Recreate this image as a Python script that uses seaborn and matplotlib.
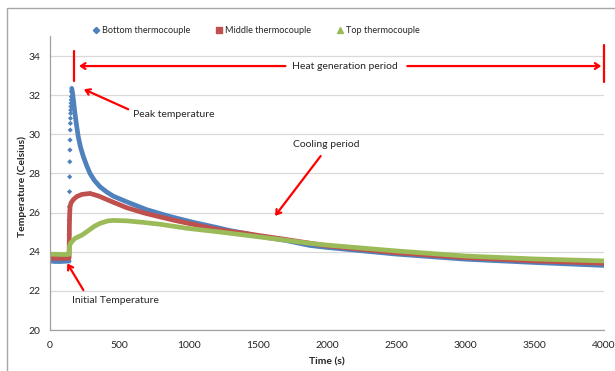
import pandas as pd
import seaborn as sns
import matplotlib.pyplot as plt
from matplotlib.lines import Line2D
from matplotlib.patches import Rectangle

# ---- data ----
# before heating starts (bottom thermocouple)
time_pre = [0, 40, 80, 120, 138]
bottom_pre = [23.52, 23.50, 23.50, 23.52, 23.52]

# bottom thermocouple: fast rise, individual samples
time_bottom_rise = [138, 139, 140, 141, 142, 143, 144, 145, 146, 147, 148, 149, 150, 151, 152, 153, 154, 155]
bottom_rise = [24.9, 25.62, 26.3, 27.07, 27.83, 28.6, 29.2, 29.71, 30.22, 30.56, 30.82, 31.07, 31.24,
               31.42, 31.59, 31.76, 31.93, 32.18]

# bottom thermocouple: decay after the peak
time_bottom = [157, 163, 170, 180, 192, 204, 220, 241, 265, 289, 320, 361, 410, 457, 554, 698, 866,
               1035, 1203, 1300, 1400, 1500, 1700, 1877, 2000, 2500, 3000, 3500, 4000]
bottom = [32.35, 32.1, 31.7, 31.07, 30.45, 29.88, 29.35, 28.86, 28.4, 28.0, 27.65, 27.32, 27.05, 26.84,
          26.55, 26.15, 25.8, 25.5, 25.24, 25.08, 24.95, 24.8, 24.58, 24.32, 24.22, 23.88, 23.62,
          23.45, 23.3]

time_middle = [0, 40, 80, 120, 138, 140, 142, 145, 152, 168, 193, 230, 289, 350, 450, 554, 680, 794,
               900, 1000, 1100, 1200, 1300, 1400, 1500, 1700, 2000, 2500, 3000, 3500, 4000]
middle = [23.68, 23.67, 23.66, 23.66, 23.68, 25.3, 25.95, 26.3, 26.5, 26.66, 26.82, 26.93, 26.98,
          26.85, 26.55, 26.25, 25.98, 25.78, 25.6, 25.45, 25.3, 25.15, 25.04, 24.95, 24.84, 24.63,
          24.3, 23.95, 23.7, 23.53, 23.41]

time_top = [0, 40, 80, 120, 138, 141, 150, 180, 230, 265, 320, 361, 420, 457, 550, 674, 800, 987,
            1200, 1408, 1600, 1877, 2000, 2500, 3000, 3500, 4000]
top = [23.88, 23.87, 23.86, 23.86, 23.87, 24.3, 24.45, 24.68, 24.85, 25.02, 25.3, 25.45, 25.58, 25.6,
       25.58, 25.5, 25.4, 25.2, 25.03, 24.85, 24.68, 24.43, 24.34, 24.04, 23.78, 23.63, 23.53]

series_names = ["Bottom thermocouple", "Middle thermocouple", "Top thermocouple"]
x_ticks = [0, 500, 1000, 1500, 2000, 2500, 3000, 3500, 4000]
y_ticks = [20, 22, 24, 26, 28, 30, 32, 34]

BLUE, RED, GREEN = "#4F81BD", "#C0504D", "#9BBB59"
ARROW = "#FF0000"

sns.set_style("white")
plt.rcParams["font.family"] = ["Lato", "DejaVu Sans"]
plt.rcParams["font.size"] = 7

fig = plt.figure(figsize=(6.15, 3.71), dpi=100)
ax = fig.add_axes([50 / 615, 1 - 330 / 371, 554 / 615, 293.5 / 371])

# thick bands (dense samples) drawn as lines
sns.lineplot(x=time_pre, y=bottom_pre, color=BLUE, lw=3.4, ax=ax, sort=False)
sns.scatterplot(x=time_bottom_rise, y=bottom_rise, color=BLUE, marker="D", s=7,
                edgecolor="none", ax=ax)
sns.lineplot(x=time_bottom, y=bottom, color=BLUE, lw=3.4, ax=ax, sort=False)
sns.lineplot(x=time_middle, y=middle, color=RED, lw=3.4, ax=ax, sort=False)
sns.lineplot(x=time_top, y=top, color=GREEN, lw=3.4, ax=ax, sort=False)

ax.set_xlim(0, 4000)
ax.set_ylim(20, 35)
ax.set_xticks(x_ticks)
ax.set_yticks(y_ticks)
ax.yaxis.grid(True, color="#d9d9d9", lw=0.9)
ax.xaxis.grid(False)
for side in ["top", "right"]:
    ax.spines[side].set_visible(False)
for side in ["left", "bottom"]:
    ax.spines[side].set_color("#a0a0a0")
    ax.spines[side].set_linewidth(0.9)
ax.tick_params(axis="both", direction="out", length=4, width=0.9, color="#a0a0a0",
               labelsize=7.5, labelcolor="#262626", pad=3)
ax.tick_params(axis="x", pad=4)

ax.set_xlabel("Time (s)", fontweight="bold", fontsize=7.5, labelpad=5)
ax.set_ylabel("Temperature (Celsius)", fontweight="bold", fontsize=7.5)
ax.yaxis.set_label_coords(-0.042, 0.49)

# legend across the top
handles = [
    Line2D([], [], ls="none", marker="D", markersize=3.2, color=BLUE),
    Line2D([], [], ls="none", marker="s", markersize=4.5, color=RED),
    Line2D([], [], ls="none", marker="^", markersize=4.5, color=GREEN),
]
fig.legend(handles, series_names, loc="center", bbox_to_anchor=(0.417, 0.917), ncol=3,
           frameon=False, fontsize=6.6, handlelength=0.6, handletextpad=0.4, columnspacing=2.8)

# annotations
red_line = dict(color=ARROW, lw=1.6, clip_on=False)
ax.plot([170, 170], [32.75, 34.25], **red_line)
ax.plot([4000, 4000], [32.7, 34.55], **red_line)

arrow = dict(arrowstyle="->,head_length=0.45,head_width=0.3", color=ARROW, lw=1.6,
             shrinkA=0, shrinkB=0)
ax.text(2130, 33.49, "Heat generation period", ha="center", va="center", fontsize=7.5)
ax.annotate("", xy=(210, 33.49), xytext=(1700, 33.49), arrowprops=arrow, annotation_clip=False)
ax.annotate("", xy=(3980, 33.49), xytext=(2580, 33.49), arrowprops=arrow, annotation_clip=False)

ax.text(600, 31.0, "Peak temperature", ha="left", va="center", fontsize=7.5)
ax.annotate("", xy=(245, 32.3), xytext=(565, 31.28), arrowprops=arrow)

ax.text(1998, 29.49, "Cooling period", ha="center", va="center", fontsize=7.5)
ax.annotate("", xy=(1625, 25.83), xytext=(1954, 28.89), arrowprops=arrow)

ax.text(157, 21.5, "Initial Temperature", ha="left", va="center", fontsize=7.5)
ax.annotate("", xy=(125, 23.4), xytext=(241, 22.04), arrowprops=arrow)

# chart border
fig.patches.append(Rectangle((7 / 615, -0.1), 1.2, 1.1 - 7.5 / 371, transform=fig.transFigure,
                             fill=False, edgecolor="#a6a6a6", lw=1.0))

fig.savefig("out.png", dpi=100)
